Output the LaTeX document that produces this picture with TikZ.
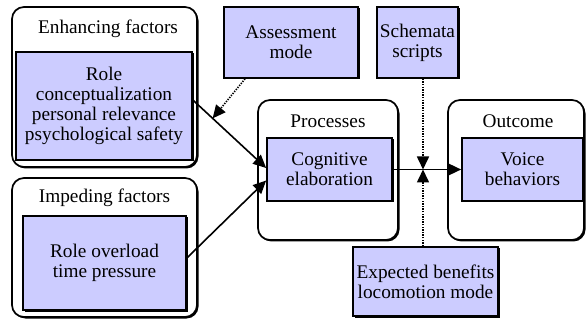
\documentclass[tikz,border=0pt]{standalone}
\usepackage{fontspec}
\setmainfont{Liberation Serif}
\usetikzlibrary{arrows.meta,shadows,calc}
\definecolor{boxfill}{RGB}{204,204,255}
\tikzset{
  outerbox/.style={draw=black, line width=1.7pt, fill=white, rounded corners=12pt,
    drop shadow={shadow xshift=1.5pt, shadow yshift=-1.5pt, fill=black, opacity=1},
    inner sep=0pt},
  innerbox/.style={draw=black, line width=1.7pt, fill=boxfill, align=center,
    drop shadow={shadow xshift=1.5pt, shadow yshift=-1.5pt, fill=black, opacity=1},
    inner sep=0pt, font=\fontsize{19.3}{20}\selectfont},
  titletext/.style={inner sep=0pt, font=\fontsize{19.3}{20}\selectfont},
  arr/.style={line width=1.6pt, -{Triangle[length=13pt,width=12pt]}},
  dotarr/.style={line width=1.6pt, dash pattern=on 1.3pt off 1.3pt, -{Triangle[length=13pt,width=12pt]}}
}
\begin{document}
\begin{tikzpicture}[x=1pt,y=-1pt]
\useasboundingbox (0,0) rectangle (586,320);
% outer containers
\node[outerbox, minimum width=185pt, minimum height=160pt] (enh) at (104.5,87) {};
\node[outerbox, minimum width=185pt, minimum height=139pt] (imp) at (104.5,247.5) {};
\node[outerbox, minimum width=140pt, minimum height=140pt] (proc) at (328,170) {};
\node[outerbox, minimum width=136pt, minimum height=140pt] (outc) at (516,170) {};
% titles
\node[titletext] (enht) at (108,29) {Enhancing factors};
\node[titletext] (impt) at (104.5,198) {Impeding factors};
\node[titletext] (proct) at (328,121) {Processes};
\node[titletext] (outct) at (518,121) {Outcome};
% inner boxes
\node[innerbox, minimum width=176pt, minimum height=108pt] (enhin) at (104,106)
  {Role\\conceptualization\\personal relevance\\psychological safety};
\node[innerbox, minimum width=163pt, minimum height=94pt] (impin) at (104.5,263)
  {Role overload\\time pressure};
\node[innerbox, minimum width=134pt, minimum height=71pt] (assess) at (291,42.5)
  {Assessment\\mode};
\node[innerbox, minimum width=81pt, minimum height=71pt] (schem) at (417.5,42.5)
  {Schemata\\scripts};
\node[innerbox, minimum width=125pt, minimum height=63pt] (cog) at (329.5,169.5)
  {Cognitive\\elaboration};
\node[innerbox, minimum width=121pt, minimum height=63pt] (voice) at (522.5,169.5)
  {Voice\\behaviors};
\node[innerbox, minimum width=145pt, minimum height=69pt] (exp) at (425.5,281.5)
  {Expected benefits\\locomotion mode};
% connectors
\draw[arr] ([yshift=6pt]enhin.east) -- coordinate[pos=0.27] (p1) ([yshift=1.5pt]cog.west);
\draw[arr] ([yshift=5pt]impin.east) -- ([yshift=-11pt]cog.west);
\draw[dotarr] ([xshift=-46pt]assess.south) -- (p1);
\draw[arr] (cog.east) -- (voice.west);
\draw[dotarr] ([xshift=5.5pt]schem.south) -- ([xshift=5.5pt]schem.south |- cog.east);
\draw[dotarr] ([xshift=-2.5pt]exp.north) -- ([xshift=-2.5pt]exp.north |- cog.east);
\end{tikzpicture}
\end{document}
